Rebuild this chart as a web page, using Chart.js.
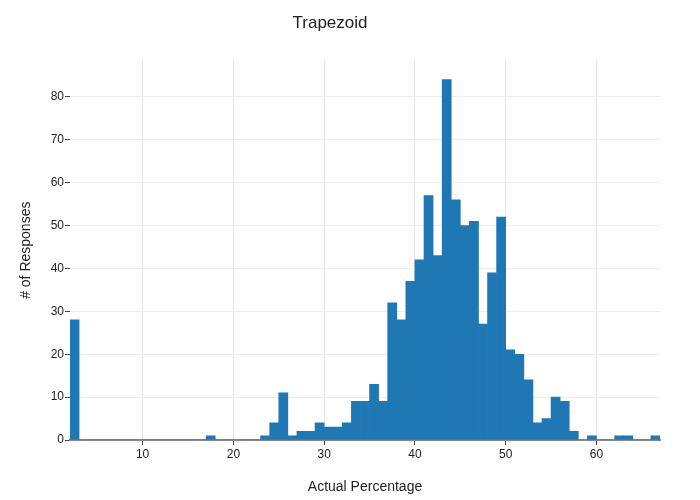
<!DOCTYPE html>
<html>
<head>
<script src="https://cdn.jsdelivr.net/npm/chart.js@4"></script>
<style>body{margin:0;background:#fff}#wrap{width:700px;height:500px}</style>
</head>
<body>
<div id="wrap"><canvas id="c"></canvas></div>
<script>
// histogram bins: left edge of each 1-unit bin and its count
var binStarts = [];
for (var b = 2; b < 67; b++) binStarts.push(b);
var counts = [28,0,0,0,0,0,0,0,0,0,0,0,0,0,0,1,0,0,0,0,0,1,4,11,1,2,2,4,3,3,4,9,9,13,9,32,28,37,42,57,43,84,56,50,51,27,39,52,21,20,14,4,5,10,9,2,0,1,0,0,1,1,0,0,1];
var xTicks = [10,20,30,40,50,60];

var points = binStarts.map(function(s, i) { return {x: s + 0.5, y: counts[i]}; });
var font = "'Liberation Sans', Arial, sans-serif";

new Chart(document.getElementById("c"), {
	type: "bar",
	data: {
		datasets: [{
			data: points,
			backgroundColor: "#1f77b4",
			barPercentage: 1,
			categoryPercentage: 1,
			borderWidth: 0
		}]
	},
	options: {
		responsive: true,
		maintainAspectRatio: false,
		animation: false,
		layout: { padding: { left: 0, right: 40, top: 0, bottom: 0 } },
		plugins: {
			legend: { display: false },
			tooltip: { enabled: false },
			title: {
				display: true,
				text: "Trapezoid",
				color: "#222",
				font: { family: font, size: 17, weight: "normal" },
				padding: { top: 13, bottom: 27 }
			}
		},
		scales: {
			x: {
				type: "linear",
				offset: false,
				min: 2, max: 67,
				afterBuildTicks: function(s) { s.ticks = xTicks.map(function(v) { return {value: v}; }); },
				afterFit: function(s) { s.height = 60; },
				grid: { offset: false, color: "#e5e5e5", drawTicks: true, tickLength: 5, tickColor: "#444" },
				border: { color: "#888", width: 2 },
				ticks: { color: "#222", font: { family: font, size: 12 }, padding: 2 },
				title: { display: true, text: "Actual Percentage", color: "#222", font: { family: font, size: 14 }, padding: { top: 14 } }
			},
			y: {
				min: 0, max: 88.5,
				afterBuildTicks: function(s) { var t = []; for (var v = 0; v <= 80; v += 10) t.push({value: v}); s.ticks = t; },
				afterFit: function(s) { s.width = 70; },
				grid: { color: "#eeeeee", tickLength: 5, tickColor: "#444" },
				border: { display: false },
				ticks: { color: "#222", font: { family: font, size: 12 }, padding: 1 },
				title: { display: true, text: "# of Responses", color: "#222", font: { family: font, size: 14 }, padding: { top: 18, bottom: 8 } }
			}
		}
	}
});
</script>
</body>
</html>
